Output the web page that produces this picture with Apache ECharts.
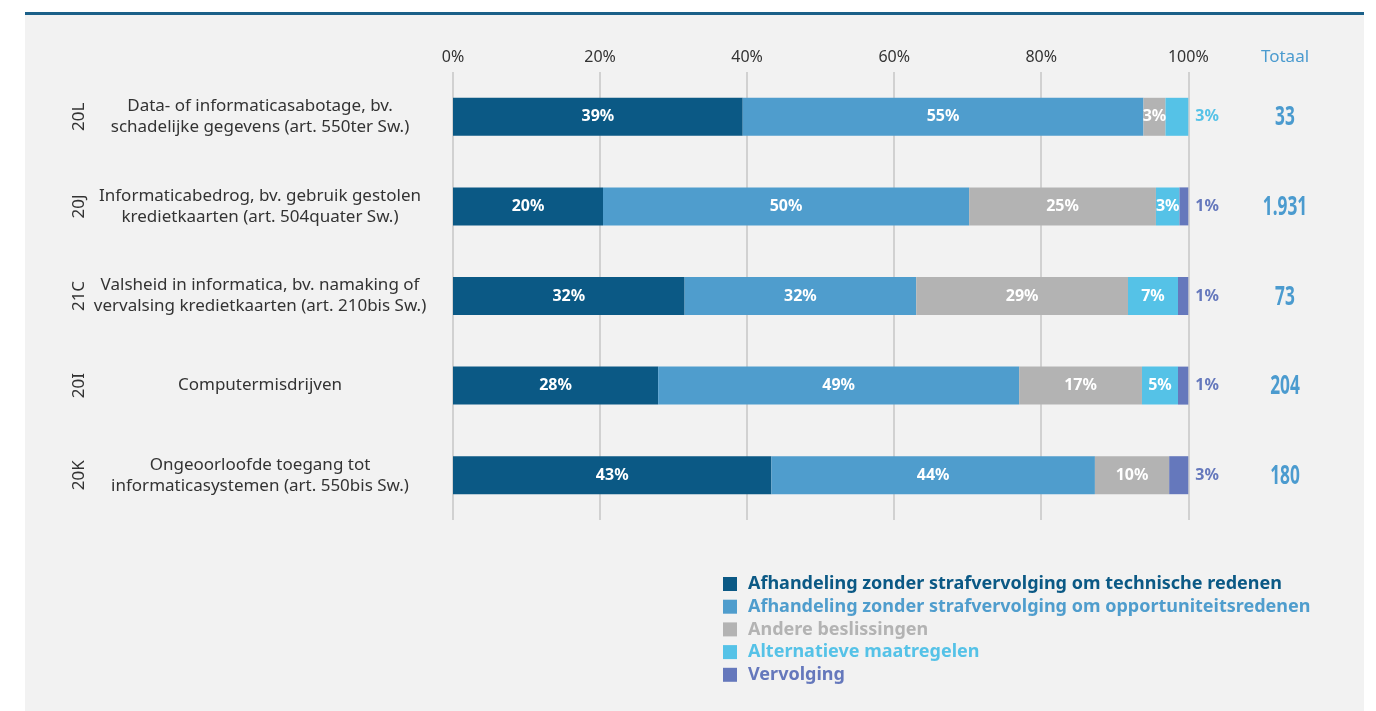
<!DOCTYPE html>
<html>
<head>
<meta charset="utf-8">
<script src="https://cdn.jsdelivr.net/npm/echarts@6/dist/echarts.min.js"></script>
<style>
html,body{margin:0;padding:0;background:#ffffff;width:1376px;height:711px;overflow:hidden;}
#panel{position:absolute;left:25px;top:12px;width:1339px;height:699px;background:#f2f2f2;border-top:3px solid #1b6089;box-sizing:border-box;}
#chart{position:absolute;left:0;top:0;width:1376px;height:711px;}
</style>
</head>
<body>
<div id="panel"></div>
<div id="chart"></div>
<script>
// ---- data ----
var codes = ['20L', '20J', '21C', '20I', '20K'];
var categories = [
  'Data- of informaticasabotage, bv.\nschadelijke gegevens (art. 550ter Sw.)',
  'Informaticabedrog, bv. gebruik gestolen\nkredietkaarten (art. 504quater Sw.)',
  'Valsheid in informatica, bv. namaking of\nvervalsing kredietkaarten (art. 210bis Sw.)',
  'Computermisdrijven',
  'Ongeoorloofde toegang tot\ninformaticasystemen (art. 550bis Sw.)'
];
var totals = ['33', '1.931', '73', '204', '180'];
var seriesNames = [
  'Afhandeling zonder strafvervolging om technische redenen',
  'Afhandeling zonder strafvervolging om opportuniteitsredenen',
  'Andere beslissingen',
  'Alternatieve maatregelen',
  'Vervolging'
];
var technisch     = [39.4, 20.4, 31.5, 27.9, 43.3];
var opportuniteit = [54.5, 49.8, 31.5, 49.1, 44.0];
var andere        = [3.0, 25.4, 28.8, 16.7, 10.1];
var alternatief   = [3.1, 3.2, 6.8, 4.9, 0];
var vervolging    = [0, 1.2, 1.4, 1.4, 2.6];
var xTicks = [0, 20, 40, 60, 80, 100];
var colors = ['#0b5985', '#4f9dcd', '#b3b3b3', '#55c2e7', '#6578bc'];
var totalColor = '#4b9bcf';

var allValues = [technisch, opportuniteit, andere, alternatief, vervolging];

function lastIndex(row) {
  var li = -1;
  for (var s = 0; s < allValues.length; s++) if (allValues[s][row] > 0) li = s;
  return li;
}

var font = "'Noto Sans', sans-serif";

var series = allValues.map(function (vals, s) {
  return {
    name: seriesNames[s],
    type: 'bar',
    stack: 'total',
    barWidth: 38,
    yAxisIndex: 0,
    itemStyle: { color: colors[s] },
    data: vals.map(function (v, r) {
      var isLast = lastIndex(r) === s;
      return {
        value: v,
        label: isLast ? {
          show: v > 0, position: 'right', distance: 7, color: colors[s],
          fontWeight: 'bold', fontSize: 16, fontFamily: font
        } : {
          show: v > 0, position: 'inside', color: '#ffffff',
          fontWeight: 'bold', fontSize: 16, fontFamily: font
        }
      };
    }),
    label: {
      formatter: function (p) { return Math.round(p.value) + '%'; }
    }
  };
});

var chart = echarts.init(document.getElementById('chart'), null, { renderer: 'canvas' });
chart.setOption({
  backgroundColor: 'transparent',
  animation: false,
  grid: { left: 453, top: 72, width: 735.3, height: 448 },
  legend: {
    orient: 'vertical',
    left: 718,
    top: 570,
    itemWidth: 14,
    itemHeight: 14,
    itemGap: 4.7,
    icon: 'rect',
    selectedMode: false,
    data: seriesNames.map(function (n, i) {
      return { name: n, textStyle: { color: colors[i] } };
    }),
    textStyle: { fontFamily: font, fontSize: 18, fontWeight: 'bold', lineHeight: 18, padding: [0, 0, 0, 6] }
  },
  xAxis: {
    type: 'value',
    position: 'top',
    min: xTicks[0],
    max: xTicks[xTicks.length - 1],
    interval: 20,
    axisLine: { show: false },
    axisTick: { show: false },
    splitLine: { show: true, lineStyle: { color: '#c6c6c6', width: 1.5 } },
    axisLabel: { formatter: '{value}%', color: '#333333', fontSize: 16, fontFamily: font, margin: 7 }
  },
  yAxis: [
    {
      type: 'category',
      data: categories,
      inverse: true,
      position: 'left',
      axisLine: { show: false },
      axisTick: { show: false },
      axisLabel: { align: 'center', margin: 193, color: '#333333', fontSize: 17, lineHeight: 21, fontFamily: font }
    },
    {
      type: 'category',
      data: codes,
      inverse: true,
      position: 'left',
      axisLine: { show: false },
      axisTick: { show: false },
      axisLabel: { rotate: 90, margin: 365, color: '#333333', fontSize: 17, fontFamily: font }
    }
  ],
  series: series
});

// Totals column: positions taken from the category axis scale
var totalX = 1285;
var graphics = [{
  type: 'text',
  x: totalX,
  y: 57,
  style: { text: 'Totaal', fill: totalColor, font: "17px 'Noto Sans', sans-serif", textAlign: 'center', textVerticalAlign: 'middle' }
}];
categories.forEach(function (c, i) {
  var y = chart.convertToPixel({ yAxisIndex: 0 }, c);
  graphics.push({
    type: 'text',
    x: totalX,
    y: y + 1,
    scaleX: 0.64,
    style: {
      text: totals[i], fill: totalColor,
      font: "bold 27px 'Noto Sans', sans-serif",
      textAlign: 'center', textVerticalAlign: 'middle'
    }
  });
});
chart.setOption({ graphic: graphics });
</script>
</body>
</html>
